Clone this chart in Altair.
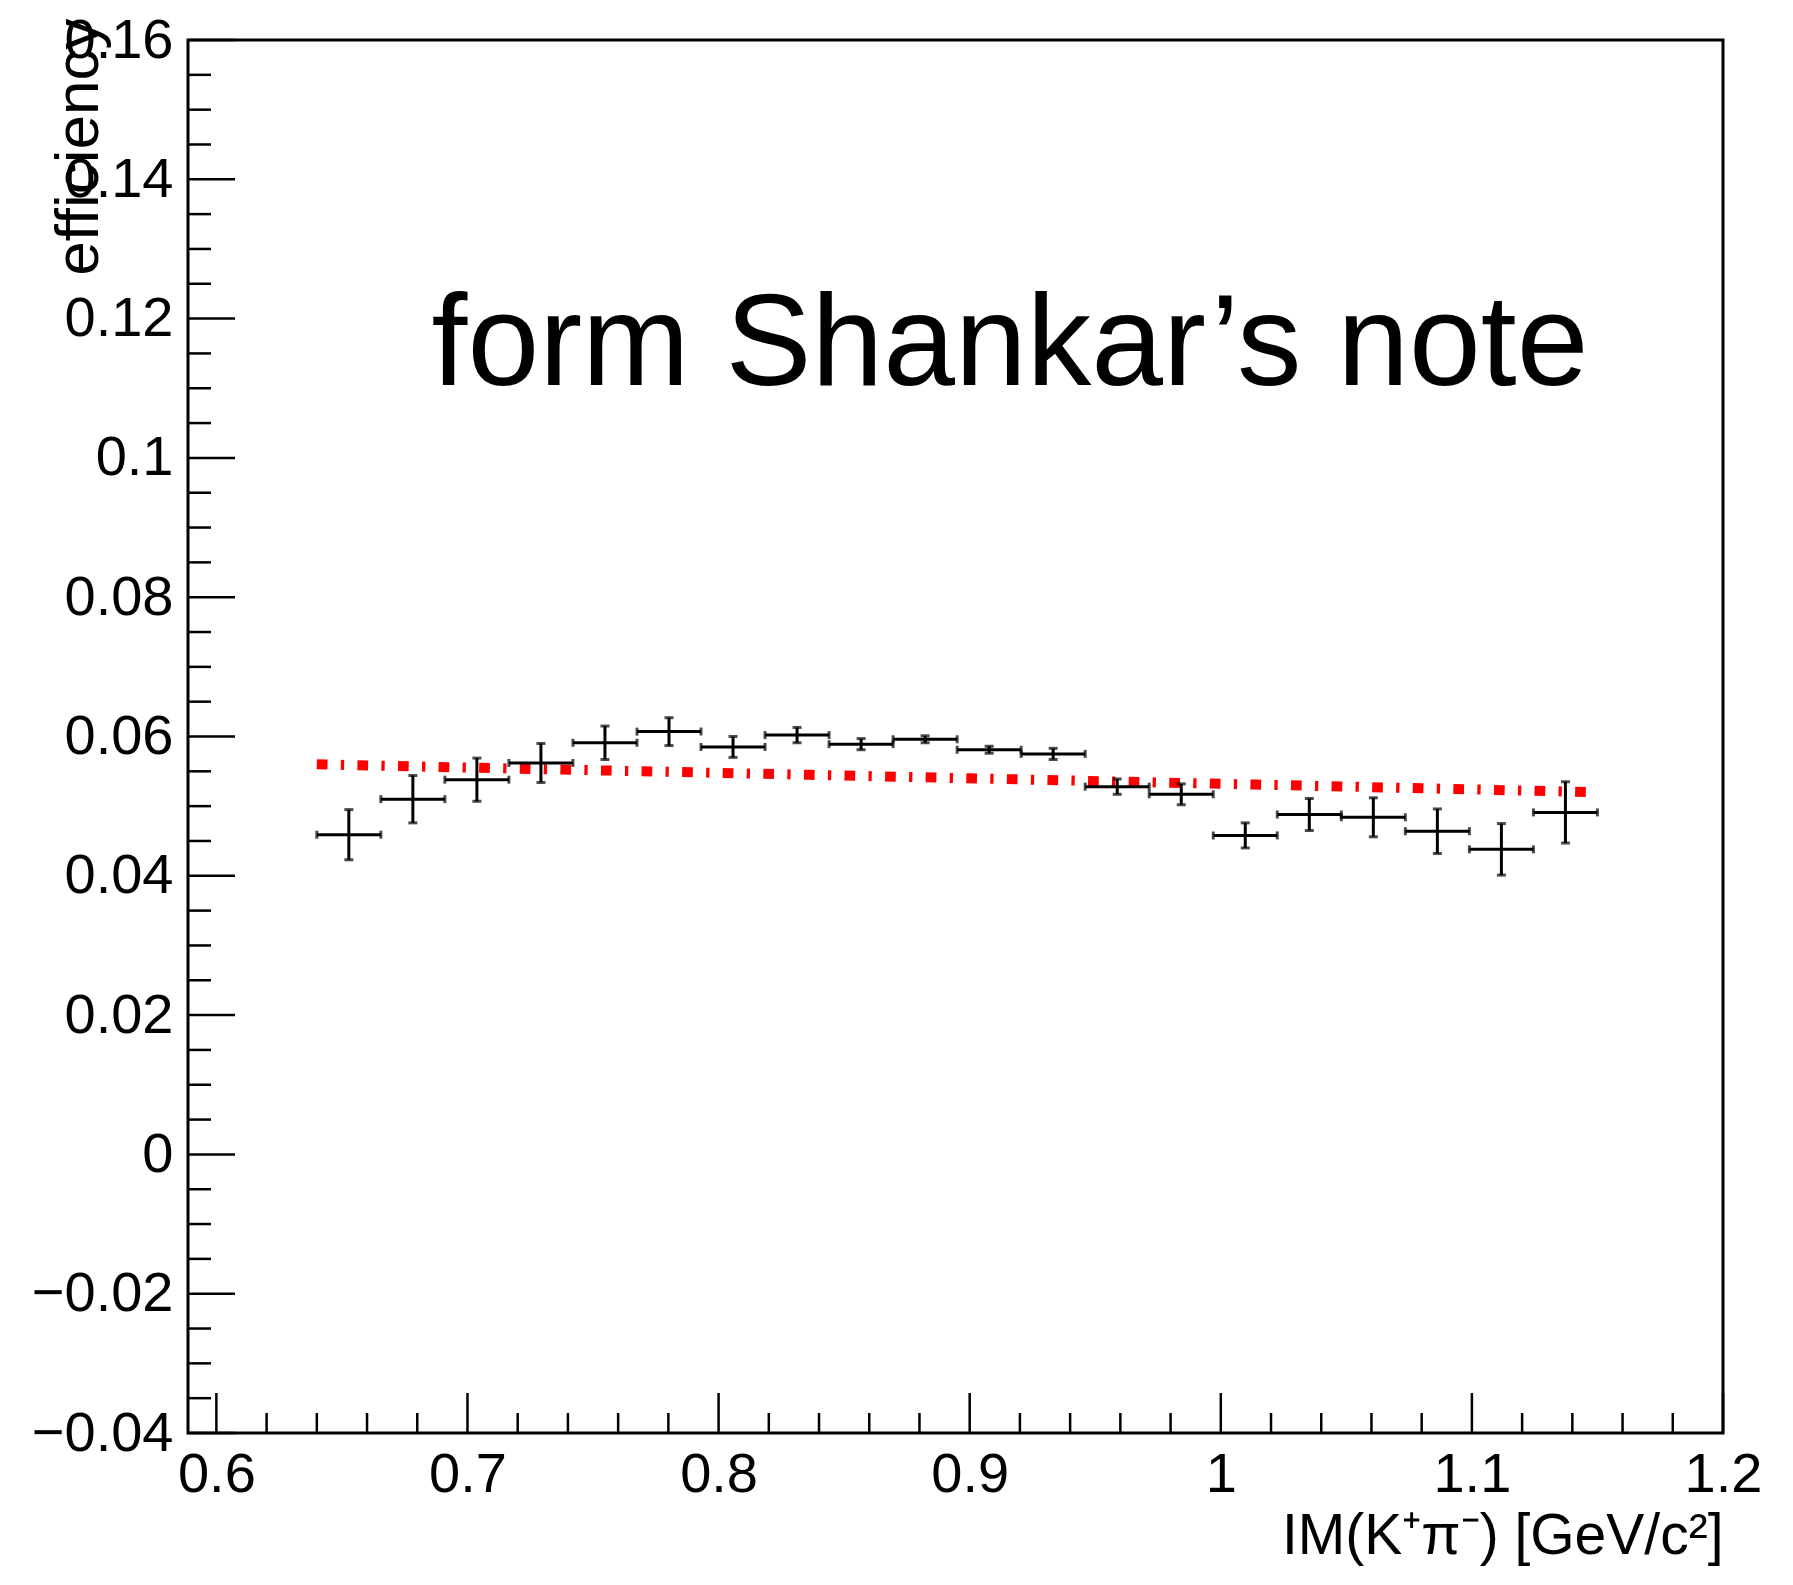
import altair as alt
import pandas as pd

# ---- data ----
x_lo = [0.6400, 0.6655, 0.6910, 0.7165, 0.7420, 0.7675, 0.7930, 0.8185, 0.8440, 0.8695,
        0.8950, 0.9205, 0.9460, 0.9715, 0.9970, 1.0225, 1.0480, 1.0735, 1.0990, 1.1245]
x_hi = [0.6655, 0.6910, 0.7165, 0.7420, 0.7675, 0.7930, 0.8185, 0.8440, 0.8695, 0.8950,
        0.9205, 0.9460, 0.9715, 0.9970, 1.0225, 1.0480, 1.0735, 1.0990, 1.1245, 1.1500]
x_c = [0.65275, 0.67825, 0.70375, 0.72925, 0.75475, 0.78025, 0.80575, 0.83125, 0.85675, 0.88225,
       0.90775, 0.93325, 0.95875, 0.98425, 1.00975, 1.03525, 1.06075, 1.08625, 1.11175, 1.13725]
eff = [0.0459, 0.0510, 0.0538, 0.0562, 0.0591, 0.0607, 0.0585, 0.0602, 0.0589, 0.0596,
       0.0581, 0.0575, 0.0528, 0.0517, 0.0458, 0.0488, 0.0484, 0.0464, 0.0438, 0.0491]
eff_err = [0.0036, 0.0034, 0.0031, 0.0028, 0.0024, 0.0020, 0.0015, 0.0011, 0.0008, 0.0005,
           0.0005, 0.0008, 0.0011, 0.0015, 0.0018, 0.0023, 0.0028, 0.0032, 0.0037, 0.0044]

fit_x = [0.64, 0.836, 1.014, 1.15]
fit_y = [0.0560, 0.0545, 0.0531, 0.0520]

x_major = [0.6, 0.7, 0.8, 0.9, 1.0, 1.1, 1.2]
x_minor = [0.62, 0.64, 0.66, 0.68, 0.72, 0.74, 0.76, 0.78, 0.82, 0.84, 0.86, 0.88,
           0.92, 0.94, 0.96, 0.98, 1.02, 1.04, 1.06, 1.08, 1.12, 1.14, 1.16, 1.18]
y_major = [-0.04, -0.02, 0.0, 0.02, 0.04, 0.06, 0.08, 0.10, 0.12, 0.14, 0.16]
y_minor = [-0.035, -0.03, -0.025, -0.015, -0.01, -0.005, 0.005, 0.01, 0.015, 0.025, 0.03, 0.035,
           0.045, 0.05, 0.055, 0.065, 0.07, 0.075, 0.085, 0.09, 0.095, 0.105, 0.11, 0.115,
           0.125, 0.13, 0.135, 0.145, 0.15, 0.155]

note_text = ["form Shankar\u2019s note"]
note_x = [0.6857]
note_y = [0.1104]

x_title = "IM(K\u207a\u03c0\u207b) [GeV/c\u00b2]"
y_title = "efficiency"

# ---- layout ----
W, H = 1535, 1393
FONT = "Liberation Sans"

xs = alt.Scale(domain=[0.5887, 1.2], nice=False, zero=False)
ys = alt.Scale(domain=[-0.04, 0.16], nice=False, zero=False)

pts = pd.DataFrame({
    "lo": x_lo, "hi": x_hi, "xc": x_c, "y": eff,
    "ylo": [v - e for v, e in zip(eff, eff_err)],
    "yhi": [v + e for v, e in zip(eff, eff_err)],
})
fit = pd.DataFrame({"x": fit_x, "y": fit_y})
note = pd.DataFrame({"x": note_x, "y": note_y, "t": note_text})

x_axis = alt.Axis(
    values=x_major, ticks=False, domain=False, grid=False,
    labelFont=FONT, labelFontSize=56, labelColor="black", labelPadding=14,
    labelFlush=False, labelOverlap=False,
    labelExpr="format(datum.value, '.1~f')",
    title=x_title, titleFont=FONT, titleFontSize=57, titleFontWeight="normal",
    titleColor="black", titleAnchor="end", titleAlign="right",
    titleBaseline="alphabetic", titleX=W, titleY=120,
)
y_axis = alt.Axis(
    values=y_major, ticks=False, domain=False, grid=False,
    labelFont=FONT, labelFontSize=56, labelColor="black", labelPadding=15,
    labelFlush=False, labelOverlap=False,
    labelExpr="replace(format(datum.value, '.2~f'), '-', '\u2212')",
    title=y_title, titleFont=FONT, titleFontSize=62, titleFontWeight="normal",
    titleColor="black", titleAngle=270, titleAlign="right",
    titleBaseline="alphabetic", titleX=-91, titleY=-22,
)


def X(field):
    return alt.X(field, type="quantitative", scale=xs, axis=x_axis)


def Y(field):
    return alt.Y(field, type="quantitative", scale=ys, axis=y_axis)


# fit line (red dash-dot)
fit_line = alt.Chart(fit).mark_line(
    color="#ff0000", strokeWidth=10, strokeDash=[10.7, 13.3, 3.3, 13.3], strokeCap="butt"
).encode(x=X("x"), y=Y("y"))

hbar = alt.Chart(pts).mark_rule(color="black", strokeWidth=3).encode(
    x=X("lo"), x2="hi:Q", y=Y("y"))
vbar = alt.Chart(pts).mark_rule(color="black", strokeWidth=3).encode(
    x=X("xc"), y=Y("ylo"), y2="yhi:Q")
cap_lo = alt.Chart(pts).mark_tick(color="black", orient="horizontal", size=9, thickness=3).encode(
    x=X("xc"), y=Y("ylo"))
cap_hi = alt.Chart(pts).mark_tick(color="black", orient="horizontal", size=9, thickness=3).encode(
    x=X("xc"), y=Y("yhi"))
cap_l = alt.Chart(pts).mark_tick(color="black", orient="vertical", size=8, thickness=3).encode(
    x=X("lo"), y=Y("y"))
cap_r = alt.Chart(pts).mark_tick(color="black", orient="vertical", size=8, thickness=3).encode(
    x=X("hi"), y=Y("y"))

# inward tick marks (ROOT style)
ymaj = alt.Chart(pd.DataFrame({"v": y_major})).mark_rule(color="black", strokeWidth=2.5).encode(
    y=Y("v"), x=alt.value(0), x2=alt.value(47))
ymin = alt.Chart(pd.DataFrame({"v": y_minor})).mark_rule(color="black", strokeWidth=2.5).encode(
    y=Y("v"), x=alt.value(0), x2=alt.value(23))
xmaj = alt.Chart(pd.DataFrame({"v": x_major})).mark_rule(color="black", strokeWidth=2.5).encode(
    x=X("v"), y=alt.value(H), y2=alt.value(H - 40))
xmin = alt.Chart(pd.DataFrame({"v": x_minor})).mark_rule(color="black", strokeWidth=2.5).encode(
    x=X("v"), y=alt.value(H), y2=alt.value(H - 20))

txt = alt.Chart(note).mark_text(
    align="left", baseline="alphabetic", fontSize=129, font=FONT, color="black"
).encode(x=X("x"), y=Y("y"), text="t:N")

chart = alt.layer(
    fit_line, hbar, vbar, cap_lo, cap_hi, cap_l, cap_r, ymaj, ymin, xmaj, xmin, txt
).properties(
    width=W, height=H,
    autosize=alt.AutoSizeParams(type="none"),
    padding={"left": 188, "top": 40, "right": 70, "bottom": 152},
    background="white",
).configure_view(stroke="black", strokeWidth=3)

chart.save("out.html", embed_options={"renderer": "svg", "actions": False})
